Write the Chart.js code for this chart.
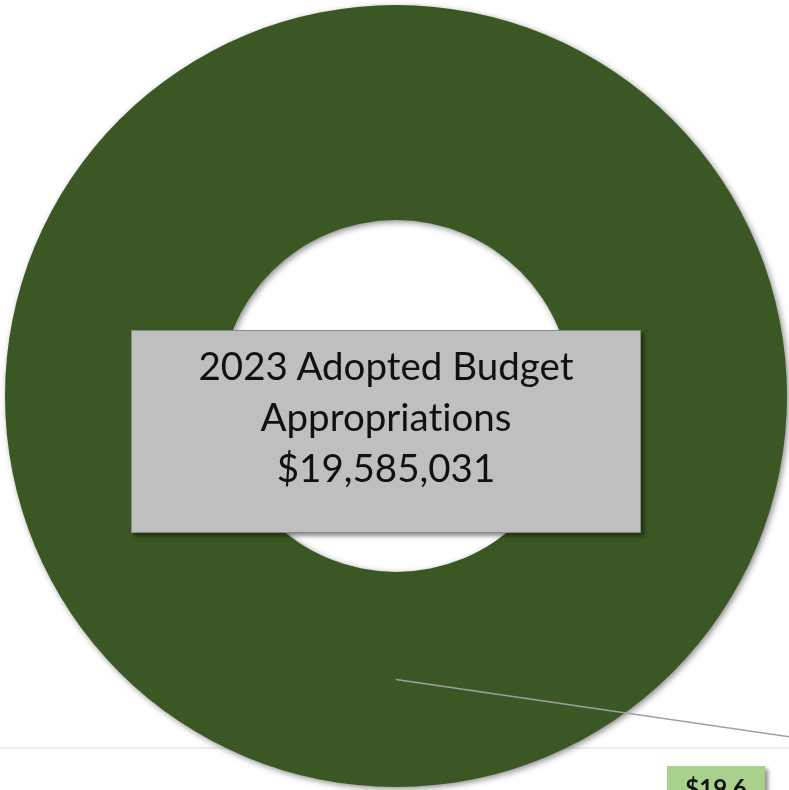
<!DOCTYPE html>
<html>
<head>
<meta charset="utf-8">
<script src="https://cdn.jsdelivr.net/npm/chart.js@4"></script>
<style>
  body { margin: 0; background: #fff; overflow: hidden; }
  #wrap { position: relative; width: 789px; height: 790px; }
  #chart { position: absolute; left: 0; top: 0; }
  .center-box {
    position: absolute; left: 131px; top: 330px; width: 510px; height: 203px;
    background: #bfbfbf; border: 1px solid #8a8a8a;
    box-shadow: 3px 3px 4px rgba(0, 0, 0, 0.45);
    font-family: Lato, "Open Sans", sans-serif; font-size: 38.5px; line-height: 51px;
    font-variant-ligatures: none;
    color: #111; text-align: center; padding-top: 9px; box-sizing: border-box;
  }
  .value-label {
    position: absolute; left: 667px; top: 766px; width: 98px; height: 40px;
    background: #a9d18e; box-shadow: 3px 3px 4px rgba(0, 0, 0, 0.45);
    font-family: Lato, "Open Sans", sans-serif; font-weight: bold; font-size: 24px;
    color: #111; text-align: center; line-height: 44px;
  }
</style>
</head>
<body>
<div id="wrap">
  <canvas id="chart" width="789" height="790"></canvas>
  <div class="center-box" id="centerBox"></div>
  <div class="value-label" id="valueLabel"></div>
</div>
<script>
const categories = ["2023 Adopted Budget Appropriations"];
const appropriations = [19585031];
const sliceColors = ["#3b5723"];

const total = appropriations.reduce((a, b) => a + b, 0);

document.getElementById("centerBox").innerHTML =
  "2023 Adopted Budget<br>Appropriations<br>$" + total.toLocaleString("en-US");
document.getElementById("valueLabel").textContent =
  "$" + (appropriations[0] / 1e6).toFixed(1);

// faint rule across the bottom, drawn under the ring
const baseRule = {
  id: "baseRule",
  beforeDatasetsDraw(chart) {
    const ctx = chart.ctx;
    ctx.save();
    ctx.strokeStyle = "#ececec";
    ctx.lineWidth = 2;
    ctx.beginPath();
    ctx.moveTo(0, 748);
    ctx.lineTo(chart.width, 748);
    ctx.stroke();
    ctx.restore();
  },
};

// soft drop shadow around the ring
const ringShadow = {
  id: "ringShadow",
  beforeDatasetDraw(chart) {
    const ctx = chart.ctx;
    ctx.save();
    ctx.shadowColor = "rgba(0, 0, 0, 0.45)";
    ctx.shadowBlur = 6;
    ctx.shadowOffsetX = 2;
    ctx.shadowOffsetY = 2;
  },
  afterDatasetDraw(chart) {
    chart.ctx.restore();
  },
};

// leader line from the slice to its value label
const leaderLine = {
  id: "leaderLine",
  afterDatasetsDraw(chart) {
    const arc = chart.getDatasetMeta(0).data[0];
    const p = arc.tooltipPosition();
    const ctx = chart.ctx;
    ctx.save();
    ctx.strokeStyle = "#a0a0a0";
    ctx.lineWidth = 1.5;
    ctx.beginPath();
    ctx.moveTo(p.x, p.y);
    ctx.lineTo(chart.width + 2, 737);
    ctx.stroke();
    ctx.restore();
  },
};

new Chart(document.getElementById("chart"), {
  type: "doughnut",
  data: {
    labels: categories,
    datasets: [
      {
        data: appropriations,
        backgroundColor: sliceColors,
        borderWidth: 0,
      },
    ],
  },
  options: {
    responsive: false,
    animation: false,
    events: [],
    cutout: "45%",
    layout: { padding: { left: 4, right: 1, top: 5, bottom: 3 } },
    plugins: {
      legend: { display: false },
      tooltip: { enabled: false },
    },
  },
  plugins: [baseRule, ringShadow, leaderLine],
});
</script>
</body>
</html>
